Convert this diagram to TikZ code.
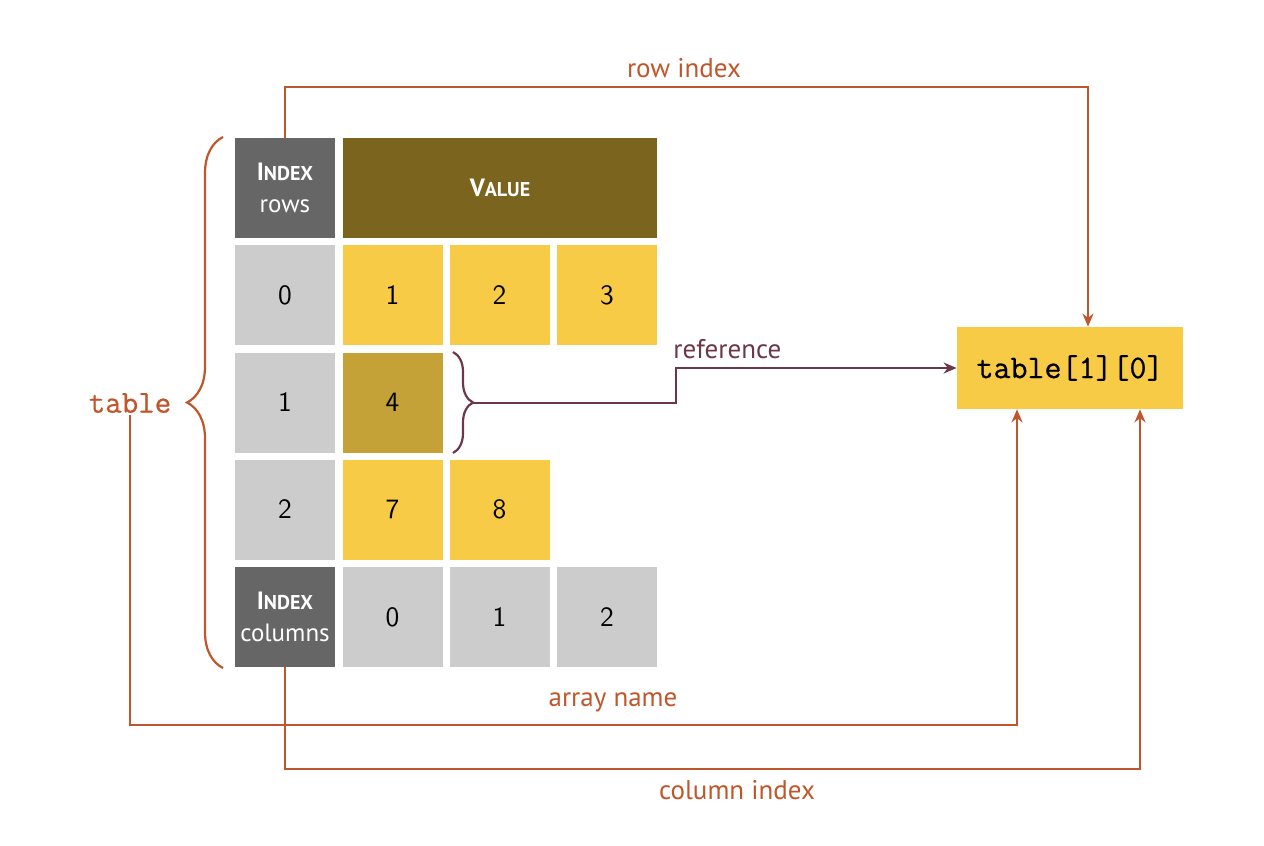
\documentclass[tikz,border=0pt]{standalone}
\usepackage{fontspec}
\setmainfont{PT Sans}
\newfontfamily\cellfont{Latin Modern Sans}
\newfontfamily\mymono{Latin Modern Mono}[FakeBold=0.7]
\usetikzlibrary{arrows.meta,decorations.pathreplacing}
\definecolor{orng}{HTML}{C0562B}
\definecolor{purp}{HTML}{6A3848}
\definecolor{dgray}{HTML}{666666}
\definecolor{lgray}{HTML}{CCCCCC}
\definecolor{yel}{HTML}{F7CB46}
\definecolor{dyel}{HTML}{C4A237}
\definecolor{olive}{HTML}{7B651E}
\newcommand{\fsc}[2]{\textbf{#1{\fontsize{10}{12}\selectfont #2}}}
\tikzset{
  cell/.style={minimum width=50pt,minimum height=50pt,inner sep=0pt,
    font=\cellfont\fontsize{14}{16}\selectfont},
  ycell/.style={cell,fill=yel},
  gcell/.style={cell,fill=lgray},
  hcell/.style={cell,fill=dgray,text=white,align=center,
    font=\fontsize{12.5}{16}\selectfont},
  lbl/.style={font=\fontsize{13.5}{15}\selectfont,text=orng,inner sep=1pt},
  conn/.style={line width=1.1pt,-{Stealth[length=6.5pt,width=5.5pt]}},
}
\begin{document}
\begin{tikzpicture}[x=0.5pt,y=-0.5pt]
\useasboundingbox (0,0) rectangle (1264,846);
% header
\node[hcell] (ir) at (285,188) {\fsc{I}{NDEX}\\[0pt]rows};
\node[cell,fill=olive,minimum width=157pt,text=white,font=\fontsize{12.5}{15}\selectfont] (val) at (500,188) {\fsc{V}{ALUE}};
% rows
\node[gcell] (r0) at (285,295) {0};
\node[ycell] (c00) at (392.5,295) {1};
\node[ycell] (c01) at (499.5,295) {2};
\node[ycell] (c02) at (607,295) {3};
\node[gcell] (r1) at (285,402.5) {1};
\node[cell,fill=dyel] (c10) at (392.5,402.5) {4};
\node[gcell] (r2) at (285,509.5) {2};
\node[ycell] (c20) at (392.5,509.5) {7};
\node[ycell] (c21) at (499.5,509.5) {8};
\node[hcell] (ic) at (285,617) {\fsc{I}{NDEX}\\[0pt]columns};
\node[gcell] (k0) at (392.5,617) {0};
\node[gcell] (k1) at (499.5,617) {1};
\node[gcell] (k2) at (607,617) {2};
% target box
\node[fill=yel,minimum width=113pt,minimum height=41pt,inner sep=0pt,
  font=\mymono\fontsize{16.5}{18}\selectfont] (box) at (1070,368) {table[1][0]};
% left brace and label
\draw[orng,line width=1.1pt,decorate,decoration={brace,amplitude=18pt}]
  (223,668) -- (223,137);
\node[font=\mymono\fontsize{16}{18}\selectfont,text=orng,inner sep=1pt] (tbl) at (130,403) {table};
% right brace of cell 4
\draw[purp,line width=1.1pt,decorate,decoration={brace,amplitude=10pt}]
  (453,352) -- (453,453);
\coordinate (btip) at (473,403);
\draw[purp,conn] (btip) -- (676,403) |- (box.west);
\node[font=\fontsize{13.5}{15}\selectfont,text=purp,inner sep=1pt,anchor=south west] (lref) at (671,361) {reference};
% row index
\draw[orng,conn] (ir.north) -- (285,87) -| ([xshift=9pt]box.north);
\node[lbl,anchor=south] (lri) at (684,80) {row index};
% array name
\draw[orng,conn] (tbl.south) -- (130,725) -| ([xshift=-26.5pt]box.south);
\node[lbl,anchor=south] (lan) at (613,714) {array name};
% column index
\draw[orng,conn] (ic.south) -- (285,769) -| ([xshift=35pt]box.south);
\node[lbl,anchor=north] (lci) at (737,778) {column index};
\end{tikzpicture}
\end{document}
